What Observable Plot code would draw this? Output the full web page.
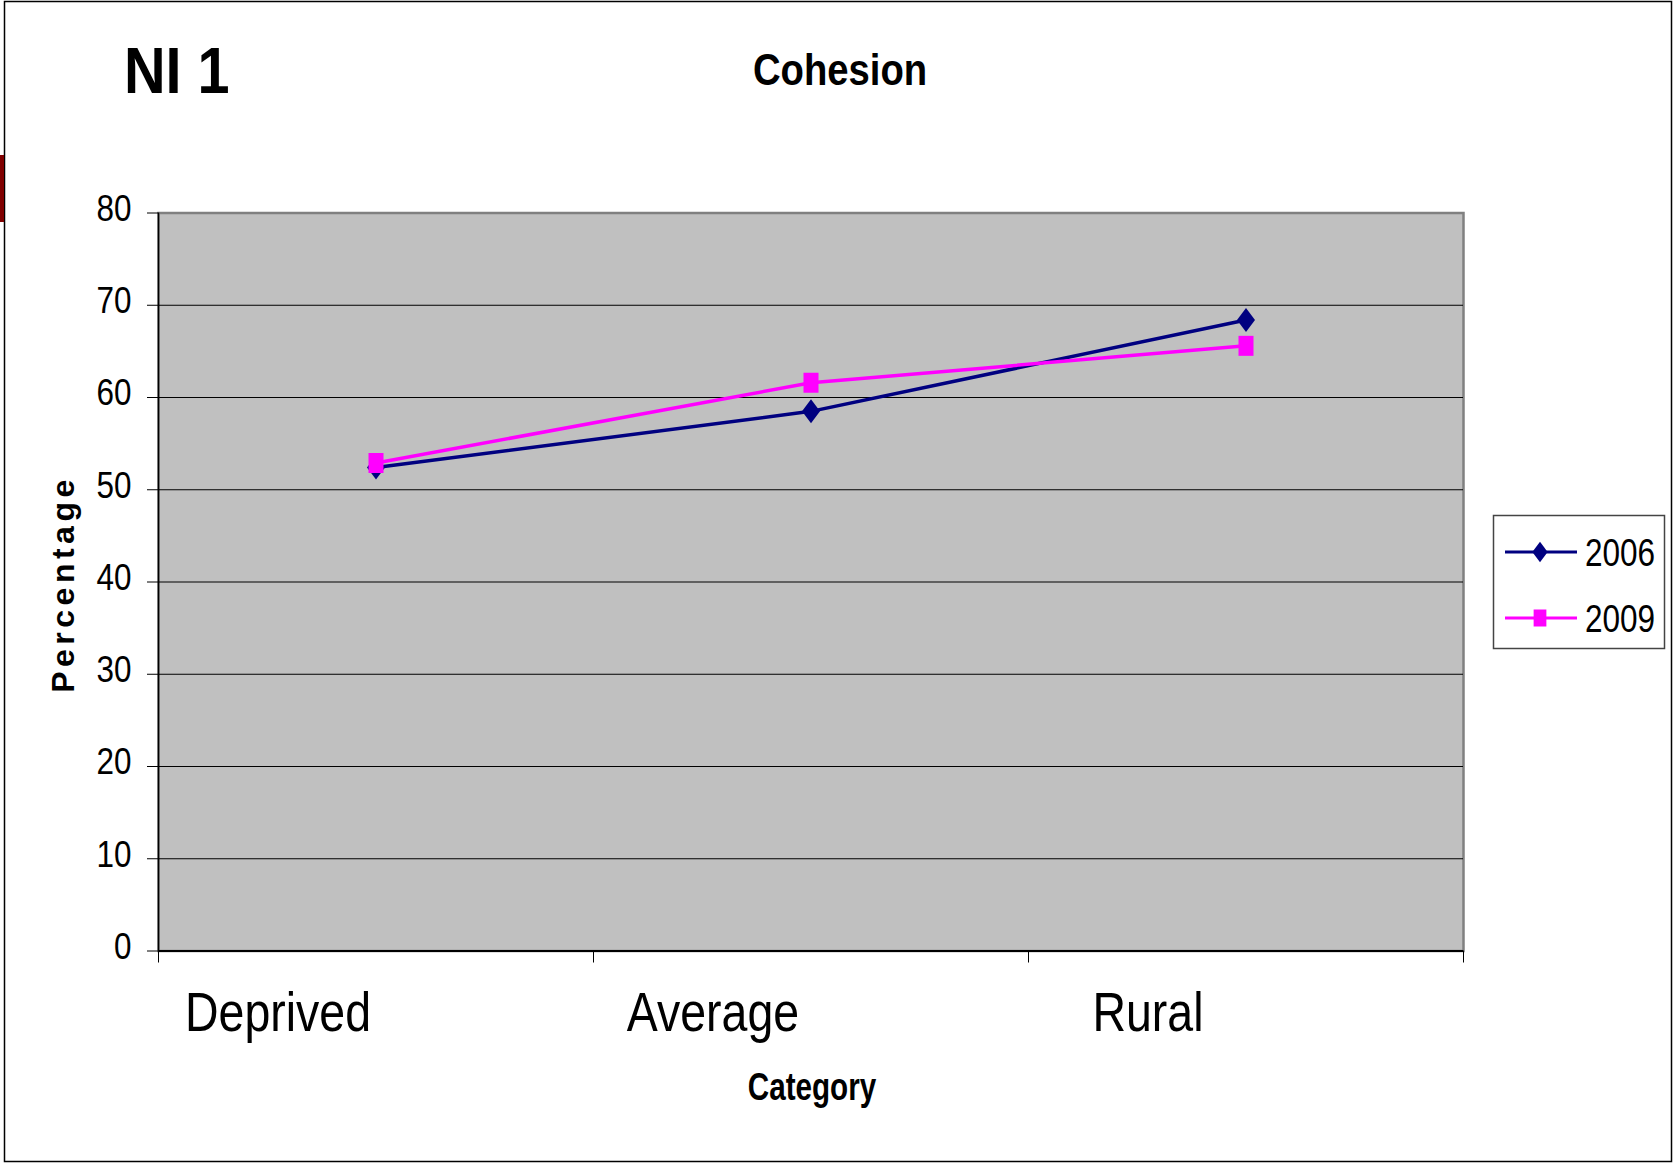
<!DOCTYPE html>
<html>
<head>
<meta charset="utf-8">
<script src="https://cdn.jsdelivr.net/npm/d3@7"></script>
<script src="https://cdn.jsdelivr.net/npm/@observablehq/plot@0.6"></script>
<style>
  html, body { margin: 0; padding: 0; background: #fff; }
  #wrap { position: relative; width: 1675px; height: 1163px; overflow: hidden; background: #fff; }
  #chart, #overlay { position: absolute; left: 0; top: 0; }
  #overlay { pointer-events: none; }
</style>
</head>
<body>
<div id="wrap">
  <div id="chart"></div>
  <svg id="overlay" width="1675" height="1163" xmlns="http://www.w3.org/2000/svg"></svg>
</div>
<script>
// ---- data ----
const categories = ["Deprived", "Average", "Rural"];
const series = ["2006", "2009"];
const values2006 = [52.4, 58.5, 68.4];
const values2009 = [52.9, 61.6, 65.6];
const yTicks = [0, 10, 20, 30, 40, 50, 60, 70, 80];
const title = "Cohesion";
const corner = "NI 1";
const yLabel = "Percentage";
const xLabel = "Category";

const colors = {"2006": "#000080", "2009": "#FF00FF"};
const font = "'Liberation Sans', Arial, sans-serif";

const rows = [];
categories.forEach((c, i) => {
  rows.push({category: c, idx: i, series: "2006", value: values2006[i]});
  rows.push({category: c, idx: i, series: "2009", value: values2009[i]});
});

// custom marker shapes
const diamond = {draw(ctx) { ctx.moveTo(0, -12); ctx.lineTo(9, 0); ctx.lineTo(0, 12); ctx.lineTo(-9, 0); ctx.closePath(); }};
const square = {draw(ctx) { ctx.rect(-7.5, -10, 15, 20); }};
const symbols = {"2006": diamond, "2009": square};

const xPos = d => d.idx + 0.5;

const marks = [
  Plot.frame({fill: "#C0C0C0", stroke: "#808080", strokeWidth: 2.5}),
  Plot.gridY(yTicks.filter(v => v > 0 && v < 80), {stroke: "#000", strokeOpacity: 1, strokeWidth: 1}),
  Plot.ruleY([0], {stroke: "#000", strokeWidth: 2}),
  Plot.ruleX([0], {stroke: "#000", strokeWidth: 1.5}),
  Plot.axisY({ticks: yTicks, tickSize: 11, tickFormat: () => "", label: null, stroke: "#000"}),
  Plot.axisY({ticks: yTicks, tickSize: 0, tickPadding: 27, label: null, fontSize: 37, dy: -4}),
  Plot.axisX({ticks: [0, 1, 2, 3], tickSize: 12, tickFormat: () => "", label: null, stroke: "#000"}),
  Plot.axisX({ticks: categories.map((d, i) => i + 0.5), tickSize: 0, tickPadding: 40,
              tickFormat: v => categories[Math.floor(v)], fontSize: 56, dx: -98, label: null})
];
series.forEach(s => {
  const data = rows.filter(r => r.series === s);
  marks.push(Plot.line(data, {x: xPos, y: "value", stroke: colors[s], strokeWidth: 3.5}));
  marks.push(Plot.dot(data, {x: xPos, y: "value", symbol: () => symbols[s], fill: colors[s], stroke: "none", r: 8}));
});

const chart = Plot.plot({
  width: 1675,
  height: 1163,
  marginLeft: 158,
  marginRight: 212,
  marginTop: 212.5,
  marginBottom: 212.5,
  x: {domain: [0, 3]},
  y: {domain: [0, 80]},
  style: {background: "transparent", fontFamily: font, color: "#000", overflow: "visible"},
  marks
});
document.getElementById("chart").appendChild(chart);

// condense text horizontally (no narrow font installed)
function num(v) { const n = parseFloat(v); return isNaN(n) ? 0 : n; }
function condense(el, s) {
  const x = num(el.getAttribute("x")), y = num(el.getAttribute("y"));
  const t = el.getAttribute("transform") || "";
  el.setAttribute("transform", `${t} translate(${x},${y}) scale(${s},1) translate(${-x},${-y})`.trim());
}
chart.querySelectorAll('g[aria-label="x-axis tick label"] text').forEach(el => condense(el, 0.83));
chart.querySelectorAll('g[aria-label="y-axis tick label"] text').forEach(el => condense(el, 0.85));

// ---- overlay: frame, titles, axis titles, legend ----
const ov = d3.select("#overlay");
ov.append("rect").attr("x", 4.5).attr("y", 1.5).attr("width", 1667).attr("height", 1160)
  .attr("fill", "none").attr("stroke", "#000").attr("stroke-width", 1.5);
ov.append("rect").attr("x", 0).attr("y", 155).attr("width", 4).attr("height", 67).attr("fill", "#800000");

ov.append("text").attr("transform", "translate(124,93) scale(0.9,1)").attr("font-family", font)
  .attr("font-weight", "bold").attr("font-size", 64).text(corner);
ov.append("text").attr("transform", "translate(840,85) scale(0.85,1)").attr("text-anchor", "middle")
  .attr("font-family", font).attr("font-weight", "bold").attr("font-size", 45).text(title);
ov.append("text").attr("transform", "translate(74,584) rotate(-90)").attr("text-anchor", "middle")
  .attr("font-family", font).attr("font-weight", "bold").attr("font-size", 32).attr("letter-spacing", 4.5).text(yLabel);
ov.append("text").attr("transform", "translate(812,1100) scale(0.78,1)").attr("text-anchor", "middle")
  .attr("font-family", font).attr("font-weight", "bold").attr("font-size", 38).text(xLabel);

// legend
const lg = ov.append("g");
lg.append("rect").attr("x", 1493.5).attr("y", 515.5).attr("width", 171).attr("height", 133)
  .attr("fill", "#fff").attr("stroke", "#444").attr("stroke-width", 1.5);
series.forEach((s, i) => {
  const cy = 552 + i * 66;
  lg.append("line").attr("x1", 1505).attr("x2", 1577).attr("y1", cy).attr("y2", cy)
    .attr("stroke", colors[s]).attr("stroke-width", 3);
  const p = d3.path();
  symbols[s].draw(p);
  lg.append("path").attr("d", p.toString()).attr("transform", `translate(1540,${cy}) scale(0.85)`).attr("fill", colors[s]);
  lg.append("text").attr("transform", `translate(1585,${cy}) scale(0.83,1)`).attr("dy", "0.36em")
    .attr("font-family", font).attr("font-size", 38).text(s);
});
</script>
</body>
</html>
